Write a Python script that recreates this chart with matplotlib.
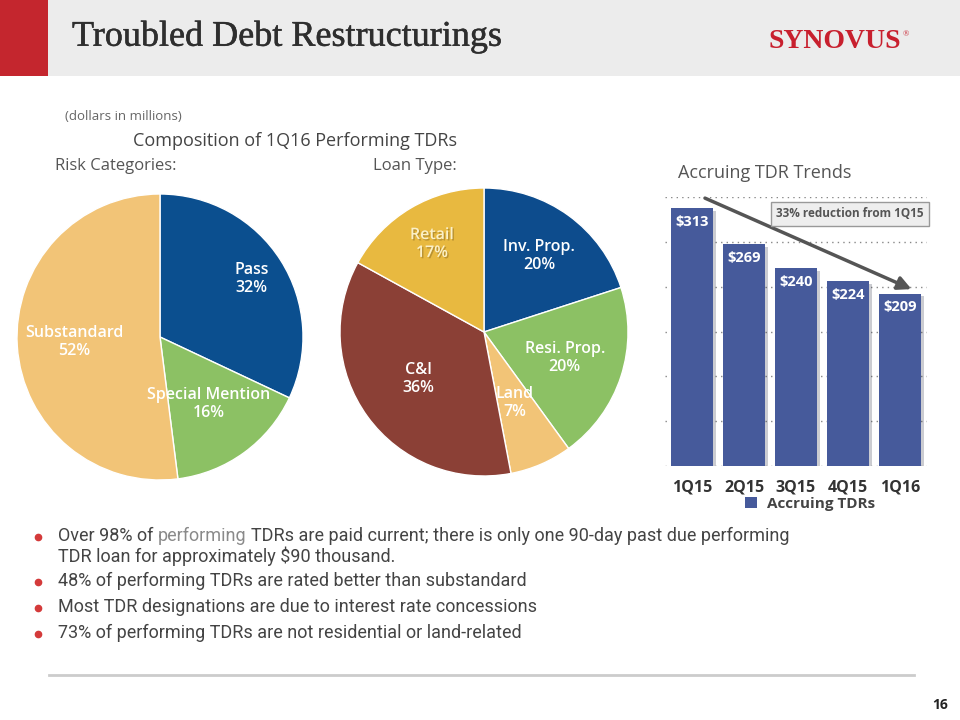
import numpy as np
import matplotlib
matplotlib.use("Agg")
from matplotlib import pyplot as plt
from matplotlib import patches
from matplotlib import patheffects as pe
from matplotlib import font_manager

# data
risk_labels = ["Pass", "Special Mention", "Substandard"]
risk_pct = [32, 16, 52]

loan_labels = ["Inv. Prop.", "Resi. Prop.", "Land", "C&I", "Retail"]
loan_pct = [20, 20, 7, 36, 17]

quarters = ["1Q15", "2Q15", "3Q15", "4Q15", "1Q16"]
accruing = [313, 269, 240, 224, 209]

bullets = [
    "Over 98% of performing TDRs are paid current; there is only one 90-day past due performing\nTDR loan for approximately $90 thousand.",
    "48% of performing TDRs are rated better than substandard",
    "Most TDR designations are due to interest rate concessions",
    "73% of performing TDRs are not residential or land-related",
]

# fonts
names = {f.name for f in font_manager.fontManager.ttflist}
SANS = "Open Sans"
NARROW = "Liberation Sans Narrow" if "Liberation Sans Narrow" in names else "Roboto"
SERIF = "Liberation Serif"
plt.rcParams["font.family"] = [SANS, "DejaVu Sans"]

W, H = 960, 720
fig = plt.figure(figsize=(9.6, 7.2), dpi=100)
fig.patch.set_facecolor("white")


def px_axes(x, y, w, h):
    return fig.add_axes([x / W, 1 - (y + h) / H, w / W, h / H])


def ftxt(x, y, s, **kw):
    return fig.text(x / W, 1 - y / H, s, **kw)


# header band
fig.patches.append(patches.Rectangle((0, 1 - 76 / H), 1, 76 / H, transform=fig.transFigure,
                                     facecolor="#ECECEC", edgecolor="none", zorder=0))
fig.patches.append(patches.Rectangle((0, 1 - 76 / H), 48 / W, 76 / H, transform=fig.transFigure,
                                     facecolor="#C4262E", edgecolor="none", zorder=0))
ftxt(72, 37, "Troubled Debt Restructurings", family=SERIF, size=26, color="#2E2E2E", va="center",
     path_effects=[pe.withStroke(linewidth=0.35, foreground="#2E2E2E")])
ftxt(768, 41, "SYNOVUS", family=SERIF, size=20, fontweight="bold", color="#C8202E", va="center")
ftxt(903, 34, "®", family=SERIF, size=6, color="#C8202E", va="center")

# headings
ftxt(65, 117, "(dollars in millions)", size=9.5, color="#666666", va="center")
ftxt(133, 141, "Composition of 1Q16 Performing TDRs", size=13, color="#444444", va="center")
ftxt(55, 166, "Risk Categories:", size=12, color="#555555", va="center")
ftxt(373, 166, "Loan Type:", size=12, color="#555555", va="center")


def draw_pie(ax, vals, labels, colors, dists, txt_colors):
    wedges, texts = ax.pie(vals, colors=colors, startangle=90, counterclock=False,
                           labels=[f"{l}\n{v}%" for l, v in zip(labels, vals)],
                           labeldistance=0.6,
                           wedgeprops=dict(edgecolor="white", linewidth=1),
                           textprops=dict(size=11.5, weight="semibold", ha="center",
                                          va="center", linespacing=1.15))
    for w, t, d, c in zip(wedges, texts, dists, txt_colors):
        a = np.deg2rad((w.theta1 + w.theta2) / 2)
        t.set_position((d * np.cos(a), d * np.sin(a)))
        t.set_color(c)
    ax.set_xlim(-1, 1)
    ax.set_ylim(-1, 1)
    return wedges, texts


ax1 = px_axes(17, 194, 286, 286)
draw_pie(ax1, risk_pct, risk_labels, ["#0B4F8F", "#8CC164", "#F2C477"],
         [0.76, 0.58, 0.60], ["white"] * 3)

ax2 = px_axes(340, 188, 288, 288)
_, ltexts = draw_pie(ax2, loan_pct, loan_labels,
                     ["#0D4C8D", "#8CC164", "#F2C477", "#8B4036", "#E8B940"],
                     [0.65, 0.59, 0.54, 0.56, 0.71],
                     ["white", "white", "white", "white", "#FBF0C8"])
ltexts[-1].set_path_effects([pe.withSimplePatchShadow(offset=(1, -1), shadow_rgbFace="#8a6a20", alpha=0.5)])

# bar chart
ftxt(678, 173, "Accruing TDR Trends", size=13, color="#555555", va="center")
ax3 = px_axes(665, 197, 262, 269)
x = np.arange(len(quarters))
bars = ax3.bar(x, accruing, width=0.79, color="#465A9B", label="Accruing TDRs", zorder=3)
for b in bars:
    b.set_path_effects([pe.SimplePatchShadow(offset=(2.5, -2), alpha=0.22), pe.Normal()])
for xi, v in zip(x, accruing):
    ax3.annotate(f"${v}", (xi, v), xytext=(0, -5), textcoords="offset points",
                 ha="center", va="top", color="white", fontweight="bold", size=10.5, zorder=4)
ymax = 326
ax3.set_ylim(0, ymax)
ax3.set_xlim(-0.52, len(quarters) - 0.48)
ax3.set_yticks(np.linspace(0, ymax, 7))
ax3.yaxis.grid(True, linestyle=(0, (1, 3)), color="#888888", linewidth=1, zorder=0)
ax3.set_yticklabels([])
ax3.tick_params(axis="y", length=0)
ax3.set_xticks(x)
ax3.set_xticklabels(quarters, fontweight="bold", size=11.5, color="#333333")
ax3.tick_params(axis="x", length=0, pad=10)
for s in ax3.spines.values():
    s.set_visible(False)
ax3.set_facecolor("none")
leg = ax3.legend(loc="center", bbox_to_anchor=(0.553, -0.14), frameon=False,
                 handlelength=0.8, handleheight=0.8, handletextpad=0.6,
                 prop=dict(weight="bold", size=11))
for h in leg.legend_handles:
    h.set_path_effects([])
for t in leg.get_texts():
    t.set_color("#444444")

# trend arrow and callout
ax3.annotate("", xy=(x[-1] + 0.27, accruing[-1] + 4), xytext=(x[0] + 0.2, ymax),
             arrowprops=dict(arrowstyle="-|>,head_length=0.8,head_width=0.4",
                             color="#555555", lw=2.5), zorder=5, annotation_clip=False)
ax3.text(0.706, 0.937, "33% reduction from 1Q15", transform=ax3.transAxes, ha="center",
         va="center", size=8.5, fontweight="bold", color="#555555", zorder=6,
         bbox=dict(boxstyle="square,pad=0.45", facecolor="#EEEEEE", edgecolor="#999999", lw=1))

# bullets
renderer = fig.canvas.get_renderer()


def text_w(s, **kw):
    t = ftxt(0, 0, s, **kw)
    w = t.get_window_extent(renderer).width
    t.remove()
    return w


bkw = dict(family=[NARROW, "DejaVu Sans"], size=13, va="center")
tx = 58
ys = [536, 581, 607, 633]
dark = "#444444"
for yb, s in zip(ys, bullets):
    fig.lines.append(plt.Line2D([38 / W], [1 - (yb + 1) / H], transform=fig.transFigure,
                                marker="o", markersize=4.5, color="#D43A3A", linestyle="none"))
    if s.startswith("Over 98%"):
        l1, l2 = s.split("\n")
        pre = "Over 98% of"
        word = "performing"
        w_all = text_w(pre + " " + word, **bkw)
        x_word = tx + w_all - text_w(word, **bkw)
        rest = l1[len(pre + " " + word) + 1:]
        first = rest.split(" ")[0]
        x_rest = tx + text_w(pre + " " + word + " " + first, **bkw) - text_w(first, **bkw)
        ftxt(tx, yb, pre, color=dark, **bkw)
        ftxt(x_word, yb, word, color="#8A8A8A", **bkw)
        ftxt(x_rest, yb, rest, color=dark, **bkw)
        ftxt(tx, yb + 20, l2, color=dark, **bkw)
    else:
        ftxt(tx, yb, s, color=dark, **bkw)

# footer
fig.lines.append(plt.Line2D([49 / W, 914 / W], [1 - 675 / H] * 2, transform=fig.transFigure,
                            color="#CCCCCC", lw=2))
ftxt(940, 705, "16", size=10, fontweight="bold", color="#222222", ha="center", va="center")

fig.savefig("out.png", dpi=100)
